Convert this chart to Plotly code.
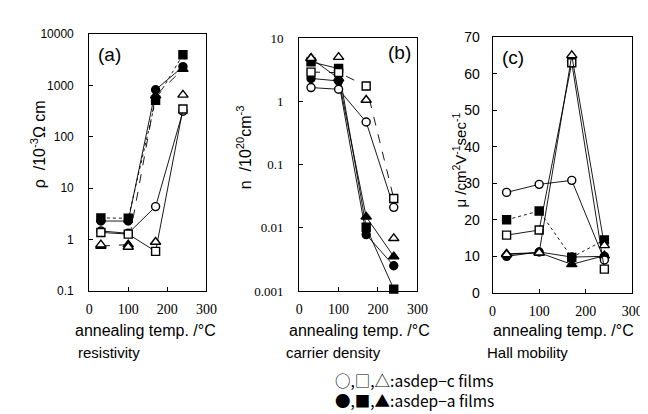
import plotly.graph_objects as go

# ---------------- data ----------------
temps = [30, 100, 170, 240]
x_ticks = [0, 100, 200, 300]

# (a) resistivity  /10^-3 ohm cm
rho_open_circle = [1.47, 1.33, 4.4, 316]
rho_open_square = [1.38, 1.28, 0.59, 350]
rho_open_triangle = [0.8, 0.72, 0.9, 660]
rho_fill_circle = [2.3, 2.3, 830, 2340]
rho_fill_square = [2.65, 2.6, 520, 4000]
rho_fill_triangle = [0.75, 0.8, 640, 2100]
rho_ticks = [0.1, 1, 10, 100, 1000, 10000]
rho_ticktext = ["0.1", "1", "10", "100", "1000", "10000"]

# (b) carrier density /10^20 cm^-3
n_open_circle = [1.65, 1.55, 0.47, 0.021]
n_open_square = [2.9, 2.85, 1.75, 0.029]
n_open_triangle = [4.8, 5.0, 1.05, 0.0068]
n_fill_circle = [2.3, 2.1, 0.0078, 0.0025]
n_fill_square = [4.2, 3.3, 0.0102, 0.00107]
n_fill_triangle = [4.8, 2.3, 0.0149, 0.0035]
n_ticks = [0.001, 0.01, 0.1, 1, 10]
n_ticktext = ["0.001", "0.01", "0.1", "1", "10"]

# (c) Hall mobility /cm^2 V^-1 s^-1
mu_open_circle = [27.5, 29.7, 30.8, 9.0]
mu_open_square = [15.8, 17.2, 63, 6.5]
mu_open_triangle = [10.5, 11, 65, 13]
mu_fill_circle = [10, 11.2, 9.8, 10]
mu_fill_square = [20, 22.4, 9.7, 14.5]
mu_fill_triangle = [10.7, 11, 7.8, 10.2]
mu_ticks = [0, 10, 20, 30, 40, 50, 60, 70]

legend_lines = ["○,□,△:asdep−c films", "●,■,▲:asdep−a films"]

W, H = 648, 414


def px(x):
    return x / W


def py(y):
    return 1 - y / H


fig = go.Figure()

# symbol, filled?
series_styles = [
    ("circle", False),
    ("square", False),
    ("triangle-up", False),
    ("circle", True),
    ("square", True),
    ("triangle-up", True),
]

panels = [
    ("x", "y", [rho_open_circle, rho_open_square, rho_open_triangle,
                rho_fill_circle, rho_fill_square, rho_fill_triangle],
     ["solid", "solid", None, "solid", "dot", "dash"]),
    ("x2", "y2", [n_open_circle, n_open_square, n_open_triangle,
                  n_fill_circle, n_fill_square, n_fill_triangle],
     ["solid", "dash", None, "solid", "solid", "solid"]),
    ("x3", "y3", [mu_open_circle, mu_open_square, mu_open_triangle,
                  mu_fill_circle, mu_fill_square, mu_fill_triangle],
     ["solid", "solid", "solid", "solid", "dot", "solid"]),
]

# draw filled series first, open ones on top
order = [3, 4, 5, 0, 1, 2]
for xa, ya, data, dashes in panels:
    for i in order:
        sym, filled = series_styles[i]
        vals, dash = data[i], dashes[i]
        fig.add_trace(go.Scatter(
            x=temps, y=vals, xaxis=xa, yaxis=ya,
            mode="markers" if dash is None else "lines+markers",
            line=dict(color="black", width=0.9, dash=dash or "solid"),
            marker=dict(symbol=sym, size=8 if sym != "triangle-up" else 9,
                        color="black" if filled else "white",
                        line=dict(color="black", width=1.4)),
            showlegend=False, cliponaxis=False,
        ))

axis_common = dict(showline=True, mirror=True, linecolor="black", linewidth=1,
                   ticks="inside", ticklen=4, tickcolor="black", showgrid=False,
                   zeroline=False)

sans = "Liberation Sans, Arial, sans-serif"
serif = "Liberation Serif, Times New Roman, serif"
cjk = "Noto Sans CJK JP, Noto Sans, sans-serif"

xfont = dict(family=serif, size=14)

fig.update_layout(
    width=W, height=H, margin=dict(l=0, r=0, t=0, b=0),
    paper_bgcolor="white", plot_bgcolor="white",
    font=dict(family=sans, color="black"),
    xaxis=dict(domain=[px(79), px(199)], range=[0, 300], tickvals=x_ticks,
               anchor="y", tickfont=xfont, ticklabelstandoff=5, **axis_common),
    yaxis=dict(domain=[py(286), py(19)], type="log", range=[-1, 4],
               tickvals=rho_ticks, ticktext=rho_ticktext, anchor="x",
               tickfont=dict(family=sans, size=12), ticklabelstandoff=12, **axis_common),
    xaxis2=dict(domain=[px(294), px(415)], range=[0, 300], tickvals=x_ticks,
                anchor="y2", tickfont=xfont, ticklabelstandoff=5, **axis_common),
    yaxis2=dict(domain=[py(286), py(23)], type="log", range=[-3, 1],
                tickvals=n_ticks, ticktext=n_ticktext, anchor="x2",
                tickfont=dict(family=serif, size=13), ticklabelstandoff=12, **axis_common),
    xaxis3=dict(domain=[px(492), px(635)], range=[0, 300], tickvals=x_ticks,
                anchor="y3", tickfont=xfont, ticklabelstandoff=5, **axis_common),
    yaxis3=dict(domain=[py(288), py(22)], range=[0, 70], tickvals=mu_ticks,
                anchor="x3", tickfont=dict(family=sans, size=14), ticklabelstandoff=9,
                **axis_common),
)

annots = [
    # panel labels
    dict(x=px(100), y=py(40), text="(a)", size=19, fam=sans),
    dict(x=px(397), y=py(38), text="(b)", size=19, fam=sans),
    dict(x=px(513), y=py(43), text="(c)", size=19, fam=sans),
    # x titles
    dict(x=px(137), y=py(327), text="annealing temp. /°C", size=16, fam=sans),
    dict(x=px(356), y=py(327), text="annealing temp. /°C", size=16, fam=sans),
    dict(x=px(565), y=py(327), text="annealing temp. /°C", size=16, fam=sans),
    # subtitles
    dict(x=px(99), y=py(350), text="resistivity", size=15, fam=sans),
    dict(x=px(329), y=py(350), text="carrier density", size=15, fam=sans),
    dict(x=px(528), y=py(350), text="Hall mobility", size=15, fam=sans),
]
for a in annots:
    fig.add_annotation(x=a["x"], y=a["y"], xref="paper", yref="paper", text=a["text"],
                       showarrow=False, xanchor="center", yanchor="middle",
                       font=dict(size=a["size"], family=a["fam"], color="black"))

# two-line symbol legend as one text block
fig.add_annotation(x=px(412), y=py(389.5), xref="paper", yref="paper",
                   text="<br>".join(legend_lines), showarrow=False, align="left",
                   xanchor="center", yanchor="middle",
                   font=dict(size=15.5, family=cjk, color="black"))

# y titles (rotated)
ytitles = [
    (27, 133, "ρ  /10<sup>-3</sup>Ω cm", 16),
    (237, 137, "n  /10<sup>20</sup>cm<sup>-3</sup>", 16),
    (458, 150, "μ /cm<sup>2</sup>V<sup>-1</sup>sec<sup>-1</sup>", 15),
]
for x, y, t, s in ytitles:
    fig.add_annotation(x=px(x), y=py(y), xref="paper", yref="paper", text=t,
                       showarrow=False, textangle=-90, xanchor="center", yanchor="middle",
                       font=dict(size=s, family=sans, color="black"))

fig.write_html("out.html")
